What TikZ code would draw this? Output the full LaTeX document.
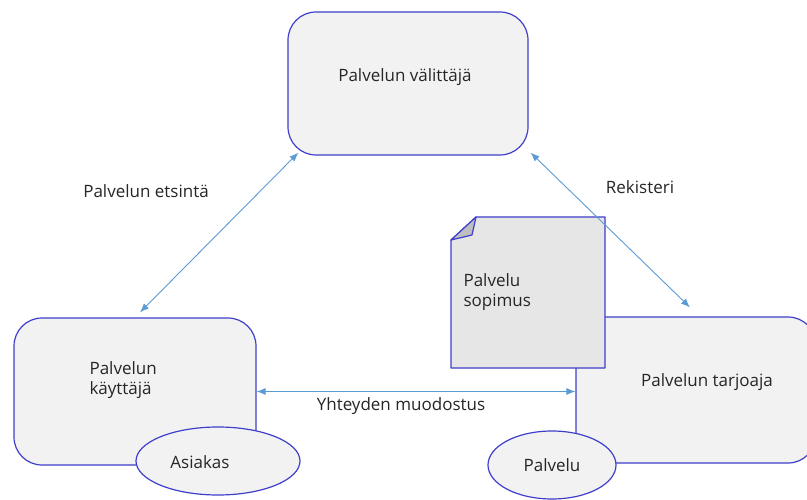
\documentclass[tikz,border=0pt]{standalone}
\usepackage{fontspec}
\setmainfont{Open Sans}
\usetikzlibrary{arrows.meta,shapes.geometric}
\definecolor{EdgeBlue}{HTML}{3F3FCC}
\definecolor{LinkBlue}{HTML}{5B9BD5}
\definecolor{BoxGray}{HTML}{F2F2F2}
\definecolor{DocGray}{HTML}{E6E6E6}
\definecolor{FoldGray}{HTML}{BFBFBF}
\definecolor{InkGray}{HTML}{262626}

\begin{document}
\begin{tikzpicture}[x=1pt,y=-1pt,
  every node/.style={font=\fontsize{17}{20}\selectfont,text=InkGray},
  role/.style={draw=EdgeBlue,fill=BoxGray,line width=1.2pt,rounded corners=28pt,inner sep=0pt},
  party/.style={ellipse,draw=EdgeBlue,fill=BoxGray,line width=1.2pt,inner sep=0pt},
  doc/.style={draw=EdgeBlue,line width=1.2pt,line join=round},
  link/.style={{Latex[length=9pt,width=7pt]}-{Latex[length=9pt,width=7pt]},color=LinkBlue,line width=0.9pt}
]
\clip (0,0) rectangle (807,500);
\fill[white] (0,0) rectangle (807,500);
% roolit
\node[role,minimum width=240pt,minimum height=143pt] (broker) at (408,83.5) {};
\node (brokerlabel) at (405,77) {Palvelun välittäjä};
\node[role,minimum width=242pt,minimum height=147pt] (user) at (135,391.5) {};
\node[anchor=west,align=left] (userlabel) at (86,380) {Palvelun\\käyttäjä};
\node[role,minimum width=240pt,minimum height=146pt] (provider) at (696,390) {};
\node (providerlabel) at (707,382) {Palvelun tarjoaja};
% sopimus
\draw[doc,fill=DocGray] (476,217) -- (605,217) -- (605,368) -- (451,368) -- (451,240) -- cycle;
\draw[doc,fill=FoldGray] (451,240) -- (476,217) -- (472,235) -- cycle;
\node[anchor=west,align=left] (contract) at (460,292) {Palvelu\\sopimus};
% asiakas ja palvelu
\node[party,minimum width=164pt,minimum height=68pt] (client) at (218,461) {};
\node (clientlabel) at (200,462) {Asiakas};
\node[party,minimum width=128pt,minimum height=68pt] (service) at (552,465) {Palvelu};
% yhteydet
\draw[link] ([xshift=5pt,yshift=5pt]user.north) -- ([xshift=11pt,yshift=3pt]broker.south west);
\draw[link] ([xshift=2pt,yshift=3pt]broker.south east) -- ([xshift=-6pt,yshift=9pt]provider.north);
\draw[link] (user.east) -- (user.east -| provider.west);
\node (search) at (146,191) {Palvelun etsintä};
\node (registry) at (640,187) {Rekisteri};
\node (connect) at (401,406) {Yhteyden muodostus};
\end{tikzpicture}
\end{document}
